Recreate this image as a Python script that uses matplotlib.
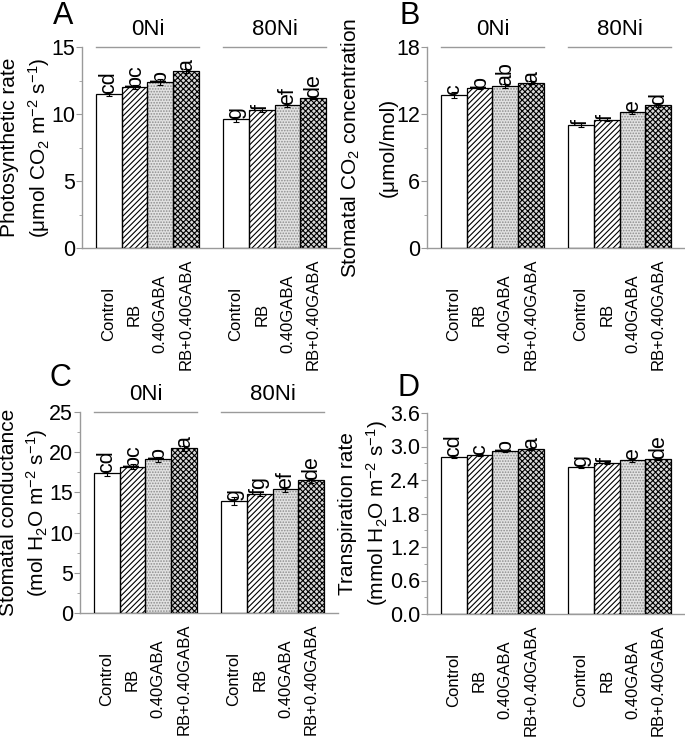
import numpy as np
import matplotlib
matplotlib.use("Agg")
import matplotlib.pyplot as plt

plt.rcParams['font.family'] = ['Liberation Sans', 'DejaVu Sans']
plt.rcParams['mathtext.fontset'] = 'custom'
plt.rcParams['mathtext.rm'] = 'Liberation Sans'
plt.rcParams['mathtext.default'] = 'regular'
plt.rcParams['hatch.linewidth'] = 0.8

# treatments and Ni levels
categories = ['Control', 'RB', '0.40GABA', 'RB+0.40GABA']
groups = ['0Ni', '80Ni']

# A - photosynthetic rate
photo_0 = [11.5, 12.0, 12.4, 13.2]
photo_80 = [9.6, 10.3, 10.7, 11.2]
photo_err_0 = [0.15, 0.15, 0.2, 0.15]
photo_err_80 = [0.2, 0.15, 0.15, 0.1]
photo_let_0 = ['cd', 'bc', 'b', 'a']
photo_let_80 = ['g', 'f', 'ef', 'de']

# B - stomatal CO2 concentration
ci_0 = [13.7, 14.3, 14.5, 14.8]
ci_80 = [11.0, 11.5, 12.2, 12.8]
ci_err_0 = [0.25, 0.1, 0.15, 0.15]
ci_err_80 = [0.2, 0.1, 0.2, 0.15]
ci_let_0 = ['c', 'b', 'ab', 'a']
ci_let_80 = ['f', 'f', 'e', 'd']

# C - stomatal conductance
gs_0 = [17.4, 18.2, 19.1, 20.5]
gs_80 = [13.9, 14.8, 15.4, 16.5]
gs_err_0 = [0.3, 0.3, 0.3, 0.3]
gs_err_80 = [0.5, 0.2, 0.3, 0.3]
gs_let_0 = ['cd', 'bc', 'b', 'a']
gs_let_80 = ['g', 'fg', 'ef', 'de']

# D - transpiration rate
tr_0 = [2.82, 2.85, 2.92, 2.95]
tr_80 = [2.64, 2.70, 2.75, 2.78]
tr_err_0 = [0.02, 0.02, 0.02, 0.02]
tr_err_80 = [0.02, 0.02, 0.02, 0.02]
tr_let_0 = ['cd', 'c', 'b', 'a']
tr_let_80 = ['g', 'f', 'e', 'de']

faces = ['white', 'white', '#e2e2e2', '#d8d8d8']
hatches = ['', '//////', '......', 'xxxxxx']
hatch_cols = ['black', 'black', '#8c8c8c', 'black']
GRAY = '#9a9a9a'


def draw_panel(ax, v0, v80, e0, e80, l0, l80, ymax, step, fmt, headers=True):
    x0 = np.arange(4)
    x80 = np.arange(4) + 4.93
    for xs, vals, errs, lets in [(x0, v0, e0, l0), (x80, v80, e80, l80)]:
        for i in range(4):
            ax.bar(xs[i], vals[i], width=1.0, color=faces[i], hatch=hatches[i],
                   edgecolor=hatch_cols[i], linewidth=0, zorder=2)
            ax.bar(xs[i], vals[i], width=1.0, fill=False, edgecolor='black',
                   linewidth=0.9, zorder=3)
            ax.errorbar(xs[i], vals[i], yerr=errs[i], color='black',
                        elinewidth=0.8, capsize=2, capthick=0.8, zorder=4)
            ax.text(xs[i], vals[i], lets[i], rotation=90, ha='center',
                    va='bottom', fontsize=15.5, zorder=5)
    if headers:
        for xs, g in [(x0, groups[0]), (x80, groups[1])]:
            ax.plot([xs[0] - 0.5, xs[-1] + 0.5], [ymax, ymax], color=GRAY,
                    lw=1, clip_on=False)
            ax.text(xs.mean(), ymax * 1.035, g, ha='center', va='bottom',
                    fontsize=16)
    ax.set_xlim(-1.04, 8.97)
    ax.set_ylim(0, ymax)
    ax.set_yticks(np.arange(0, ymax + step / 2, step))
    ax.set_yticks(np.arange(step / 2, ymax, step), minor=True)
    ax.yaxis.set_major_formatter(matplotlib.ticker.FormatStrFormatter(fmt))
    ax.set_xticks(np.concatenate([x0, x80]))
    ax.set_xticklabels(categories * 2, rotation=90, va='center', fontsize=12)
    ax.tick_params(axis='x', length=0, pad=47.5)
    ax.tick_params(axis='y', which='major', direction='out', length=4,
                   color=GRAY, labelsize=15.5, pad=1)
    ax.tick_params(axis='y', which='minor', direction='out', length=2.5,
                   color=GRAY)
    for s in ['top', 'right']:
        ax.spines[s].set_visible(False)
    for s in ['left', 'bottom']:
        ax.spines[s].set_color(GRAY)
        ax.spines[s].set_linewidth(1)


fig = plt.figure(figsize=(6.85, 7.37), dpi=100)
W, H = 685, 737
axA = fig.add_axes([82 / W, (H - 248) / H, 258 / W, 201 / H])
axB = fig.add_axes([427 / W, (H - 248) / H, 258 / W, 201 / H])
axC = fig.add_axes([80 / W, (H - 613) / H, 258 / W, 201 / H])
axD = fig.add_axes([427 / W, (H - 614) / H, 258 / W, 201 / H])

draw_panel(axA, photo_0, photo_80, photo_err_0, photo_err_80,
           photo_let_0, photo_let_80, 15, 5, '%d')
draw_panel(axB, ci_0, ci_80, ci_err_0, ci_err_80,
           ci_let_0, ci_let_80, 18, 6, '%d')
draw_panel(axC, gs_0, gs_80, gs_err_0, gs_err_80,
           gs_let_0, gs_let_80, 25, 5, '%d')
draw_panel(axD, tr_0, tr_80, tr_err_0, tr_err_80,
           tr_let_0, tr_let_80, 3.6, 0.6, '%.1f', headers=False)

# y labels: two lines each, placed separately
ylabels = [
    (axA, 'Photosynthetic rate', '(μmol CO$_2$ m$^{-2}$ s$^{-1}$)', 10, 39),
    (axB, 'Stomatal CO$_2$ concentration', '(μmol/mol)', 351, 388),
    (axC, 'Stomatal conductance', '(mol H$_2$O m$^{-2}$ s$^{-1}$)', 9, 37),
    (axD, 'Transpiration rate', '(mmol H$_2$O m$^{-2}$ s$^{-1}$)', 348, 377),
]
for ax, line1, line2, x1, x2 in ylabels:
    bb = ax.get_position()
    yc = bb.y0 + bb.height / 2
    fig.text(x1 / W, yc, line1, rotation=90, ha='center', va='center',
             fontsize=15)
    fig.text(x2 / W, yc, line2, rotation=90, ha='center', va='center',
             fontsize=15)

for lab, xp, yp in [('A', 53, 24), ('B', 399, 24), ('C', 50, 386), ('D', 398, 396)]:
    fig.text(xp / W, 1 - yp / H, lab, fontsize=22, ha='left', va='baseline')

fig.savefig('out.png', dpi=100)
